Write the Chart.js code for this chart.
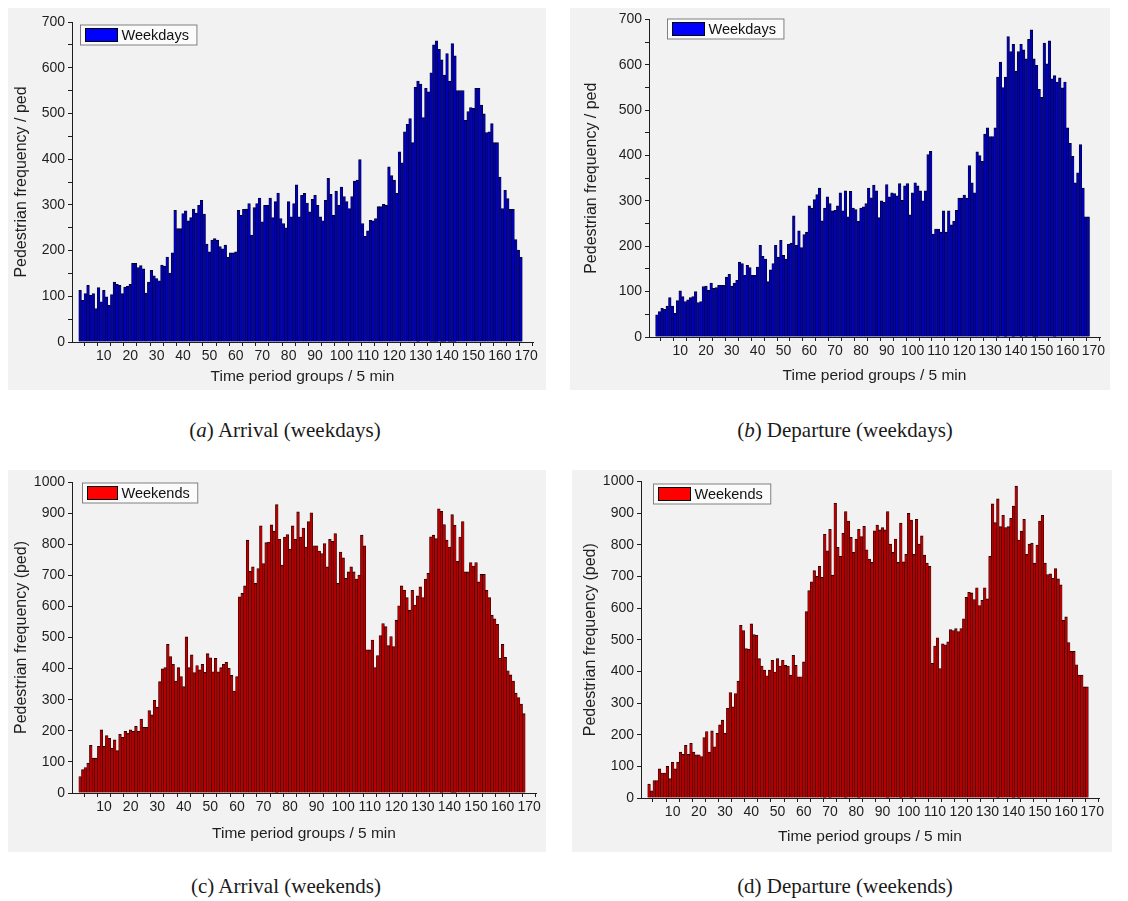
<!DOCTYPE html>
<html>
<head>
<meta charset="utf-8">
<title>Pedestrian frequency by time period</title>
<script src="https://cdn.jsdelivr.net/npm/chart.js@4.4.1/dist/chart.umd.min.js"></script>
<style>
  body {
    margin: 0;
    width: 1128px;
    height: 901px;
    position: relative;
    overflow: hidden;
    background: #ffffff;
  }
  .panel {
    position: absolute;
    background: #f2f2f2;
  }
  .caption {
    position: absolute;
    width: 420px;
    text-align: center;
    font-family: "Liberation Serif", "Times New Roman", serif;
    font-size: 21px;
    color: #1a1a1a;
  }
</style>
</head>
<body>

<div class="panel" style="left:8px; top:8px; width:538px; height:382px;"><canvas id="chart-arr-wd"></canvas></div>
<div class="panel" style="left:570px; top:8px; width:540px; height:382px;"><canvas id="chart-dep-wd"></canvas></div>
<div class="panel" style="left:8px; top:470px; width:538px; height:382px;"><canvas id="chart-arr-we"></canvas></div>
<div class="panel" style="left:572px; top:470px; width:540px; height:382px;"><canvas id="chart-dep-we"></canvas></div>

<div class="caption" style="left:75px; top:418px;">(<i>a</i>) Arrival (weekdays)</div>
<div class="caption" style="left:635px; top:418px;">(<i>b</i>) Departure (weekdays)</div>
<div class="caption" style="left:76px; top:874px;">(c) Arrival (weekends)</div>
<div class="caption" style="left:635px; top:874px;">(d) Departure (weekends)</div>

<script>
// ==========================================
// Data (168 five-minute groups)
// ==========================================

const periods = Array.from({ length: 168 }, (_, i) => i + 1);
const xTickValues = [5, 10, 15, 20, 25, 30, 35, 40, 45, 50, 55, 60, 65, 70, 75, 80, 85, 90,
  95, 100, 105, 110, 115, 120, 125, 130, 135, 140, 145, 150, 155, 160, 165, 170];

const arrivalWeekdays = [
  113, 91, 106, 124, 102, 106, 73, 119, 88, 113,
  99, 80, 104, 131, 126, 124, 106, 120, 122, 126,
  172, 172, 163, 167, 160, 107, 131, 157, 145, 139,
  134, 168, 166, 186, 151, 195, 288, 248, 248, 281,
  287, 265, 272, 291, 282, 299, 310, 280, 214, 197,
  223, 226, 223, 209, 204, 212, 185, 195, 195, 197,
  288, 277, 290, 291, 303, 234, 294, 303, 315, 263,
  299, 299, 315, 272, 307, 326, 270, 259, 250, 307,
  274, 303, 344, 274, 321, 325, 304, 285, 312, 321,
  299, 274, 265, 310, 358, 323, 277, 330, 299, 339,
  318, 307, 292, 318, 352, 354, 399, 259, 231, 243,
  266, 265, 270, 296, 296, 301, 299, 383, 364, 354,
  325, 416, 392, 460, 476, 489, 436, 557, 571, 564,
  491, 555, 547, 589, 650, 659, 640, 617, 584, 631,
  571, 653, 626, 550, 550, 550, 485, 504, 513, 511,
  555, 555, 518, 499, 458, 460, 478, 436, 436, 361,
  292, 332, 314, 290, 290, 224, 201, 185
];

const departureWeekdays = [
  49, 56, 63, 61, 68, 87, 68, 52, 80, 102,
  89, 78, 82, 87, 89, 100, 76, 78, 111, 112,
  103, 119, 107, 109, 114, 114, 114, 132, 138, 112,
  119, 125, 165, 162, 136, 158, 153, 136, 136, 154,
  202, 178, 172, 122, 148, 162, 202, 176, 213, 180,
  172, 204, 207, 267, 202, 234, 197, 226, 231, 289,
  284, 303, 314, 328, 256, 284, 309, 294, 278, 279,
  289, 318, 278, 322, 265, 321, 284, 281, 255, 284,
  287, 294, 328, 307, 335, 322, 263, 300, 297, 336,
  309, 318, 316, 311, 338, 301, 333, 338, 269, 318,
  340, 333, 322, 300, 322, 402, 409, 227, 238, 238,
  231, 278, 231, 278, 247, 255, 279, 306, 306, 313,
  306, 378, 340, 318, 408, 400, 387, 447, 461, 442,
  442, 461, 573, 606, 550, 573, 662, 629, 645, 586,
  629, 645, 633, 613, 656, 677, 613, 599, 546, 528,
  648, 602, 653, 569, 576, 562, 571, 549, 562, 461,
  427, 398, 340, 362, 424, 328, 265, 265
];

const arrivalWeekends = [
  53, 75, 82, 96, 153, 112, 112, 150, 203, 150,
  185, 176, 144, 171, 136, 189, 179, 198, 193, 203,
  198, 214, 198, 238, 211, 211, 265, 251, 298, 276,
  358, 399, 403, 478, 439, 414, 360, 403, 374, 342,
  502, 403, 444, 387, 410, 396, 414, 388, 448, 435,
  390, 433, 390, 403, 414, 420, 401, 378, 328, 374,
  631, 642, 666, 813, 713, 727, 674, 722, 859, 738,
  805, 807, 862, 842, 927, 816, 733, 823, 831, 784,
  859, 816, 904, 823, 852, 791, 873, 901, 795, 795,
  778, 770, 802, 727, 816, 809, 834, 674, 775, 756,
  690, 711, 727, 711, 688, 701, 829, 795, 460, 460,
  492, 403, 442, 506, 545, 535, 474, 503, 471, 556,
  602, 666, 652, 628, 588, 652, 604, 634, 663, 628,
  688, 706, 824, 829, 818, 914, 906, 863, 813, 791,
  895, 861, 745, 823, 873, 711, 711, 741, 730, 741,
  679, 703, 703, 652, 628, 572, 560, 542, 433, 478,
  436, 393, 380, 360, 321, 307, 286, 255
];

const departureWeekends = [
  44, 23, 55, 55, 92, 79, 79, 100, 61, 113,
  92, 113, 145, 138, 166, 138, 173, 145, 136, 136,
  131, 191, 210, 145, 212, 162, 204, 231, 246, 204,
  283, 333, 288, 330, 369, 545, 529, 472, 470, 550,
  516, 514, 440, 417, 404, 386, 404, 435, 398, 440,
  417, 435, 419, 417, 388, 451, 419, 383, 383, 430,
  589, 655, 683, 718, 700, 732, 697, 833, 781, 849,
  704, 931, 792, 763, 836, 905, 875, 823, 776, 818,
  849, 826, 858, 784, 755, 744, 844, 862, 847, 854,
  847, 905, 802, 776, 818, 744, 868, 746, 770, 899,
  878, 770, 880, 802, 828, 767, 742, 732, 425, 480,
  506, 409, 487, 484, 493, 532, 529, 535, 526, 535,
  566, 634, 650, 648, 627, 664, 608, 624, 664, 629,
  763, 929, 870, 945, 857, 893, 854, 857, 883, 922,
  985, 815, 843, 880, 770, 802, 805, 742, 799, 875,
  893, 742, 706, 708, 694, 725, 692, 673, 561, 572,
  491, 463, 463, 421, 388, 388, 351, 351
];

document.addEventListener('DOMContentLoaded', () => {
  if (typeof Chart === 'undefined') {
    console.error('Chart.js is not loaded.');
    return;
  }

  const FONT = '"Liberation Sans", Arial, sans-serif';
  const INK = '#1e1e1e';

  // Framed legend drawn inside the plot area (Origin style)
  const legendFrame = {
    id: 'legendFrame',
    afterDraw(chart, args, opts) {
      const { ctx, chartArea } = chart;
      const label = chart.data.datasets[0].label;
      const x = Math.round(chartArea.left + opts.dx) + 0.5;
      const y = Math.round(chartArea.top + opts.dy) + 0.5;

      ctx.save();
      ctx.font = '14.5px ' + FONT;
      const tw = ctx.measureText(label).width;
      const w = opts.boxW + 5 + tw + 12;

      ctx.fillStyle = '#fbfbfb';
      ctx.fillRect(x - 5, y - 3.5, w, 20);
      ctx.strokeStyle = '#808080';
      ctx.lineWidth = 1;
      ctx.strokeRect(x - 5, y - 3.5, w, 20);

      ctx.fillStyle = opts.swatch;
      ctx.fillRect(x, y, opts.boxW, 13);
      ctx.strokeStyle = '#000000';
      ctx.strokeRect(x, y, opts.boxW, 13);

      ctx.fillStyle = '#111111';
      ctx.textBaseline = 'middle';
      ctx.fillText(label, x + opts.boxW + 4, y + 7);
      ctx.restore();
    }
  };

  // ==========================================
  // Panel renderer
  // ==========================================

  function renderPanel(canvasId, cfg) {
    const ctx = document.getElementById(canvasId).getContext('2d');

    return new Chart(ctx, {
      type: 'bar',
      data: {
        datasets: [{
          label: cfg.label,
          data: periods.map((p, i) => ({ x: p, y: cfg.values[i] })),
          backgroundColor: cfg.fill,
          borderColor: cfg.edge,
          borderWidth: { left: 0.55, right: 0.55, top: 0.9, bottom: 0 },
          borderSkipped: false,
          barPercentage: 1,
          categoryPercentage: 1
        }]
      },
      plugins: [legendFrame],
      options: {
        responsive: true,
        maintainAspectRatio: false,
        animation: false,
        layout: { padding: { top: cfg.padTop, right: cfg.padRight, left: 0, bottom: 0 } },
        plugins: {
          legend: { display: false },
          tooltip: { enabled: false },
          legendFrame: { dx: cfg.legendDx, dy: cfg.legendDy, boxW: cfg.legendBoxW, swatch: cfg.swatch }
        },
        scales: {
          x: {
            type: 'linear',
            min: 0.5,
            max: 170,
            afterBuildTicks: axis => { axis.ticks = xTickValues.map(v => ({ value: v })); },
            afterFit: scale => { scale.height = cfg.xHeight; },
            ticks: {
              autoSkip: false,
              maxRotation: 0,
              padding: 2,
              color: INK,
              font: { family: FONT, size: 14 },
              callback: v => (v % 10 === 0 ? v : '')
            },
            grid: { drawOnChartArea: false, tickLength: 4, tickColor: INK },
            border: { color: INK, width: 1 },
            title: {
              display: true,
              text: 'Time period groups / 5 min',
              color: INK,
              font: { family: FONT, size: 15.5 },
              padding: { top: 0, bottom: cfg.xTitlePad }
            }
          },
          y: {
            min: 0,
            max: cfg.yMax,
            afterFit: scale => { scale.width = cfg.yWidth; },
            ticks: {
              stepSize: 50,
              padding: 3,
              color: INK,
              font: { family: FONT, size: 14 },
              callback: v => (v % 100 === 0 ? v : '')
            },
            grid: { drawOnChartArea: false, tickLength: 4, tickColor: INK },
            border: { color: INK, width: 1 },
            title: {
              display: true,
              text: cfg.yTitle,
              color: INK,
              font: { family: FONT, size: 16 },
              padding: { top: cfg.yTitlePad, bottom: 0 }
            }
          }
        }
      }
    });
  }

  // --- Weekdays (blue) ---
  renderPanel('chart-arr-wd', {
    label: 'Weekdays', values: arrivalWeekdays, yMax: 700,
    yTitle: 'Pedestrian frequency / ped',
    fill: '#0000b4', edge: '#00001c', swatch: '#0000ff',
    padTop: 14, padRight: 13, yWidth: 64, xHeight: 48,
    yTitlePad: 4, xTitlePad: 4,
    legendDx: 13, legendDy: 6, legendBoxW: 32
  });

  renderPanel('chart-dep-wd', {
    label: 'Weekdays', values: departureWeekdays, yMax: 700,
    yTitle: 'Pedestrian frequency / ped',
    fill: '#0000b4', edge: '#00001c', swatch: '#0000ff',
    padTop: 9, padRight: 10, yWidth: 79, xHeight: 53,
    yTitlePad: 12, xTitlePad: 5,
    legendDx: 23, legendDy: 3, legendBoxW: 32
  });

  // --- Weekends (red) ---
  renderPanel('chart-arr-we', {
    label: 'Weekends', values: arrivalWeekends, yMax: 1000,
    yTitle: 'Pedestrian frequency (ped)',
    fill: '#b40000', edge: '#1c0000', swatch: '#ff0000',
    padTop: 12, padRight: 10, yWidth: 64, xHeight: 59,
    yTitlePad: 4, xTitlePad: 9,
    legendDx: 15, legendDy: 4, legendBoxW: 30
  });

  renderPanel('chart-dep-we', {
    label: 'Weekends', values: departureWeekends, yMax: 1000,
    yTitle: 'Pedestrian frequency (ped)',
    fill: '#b40000', edge: '#1c0000', swatch: '#ff0000',
    padTop: 10, padRight: 13, yWidth: 69, xHeight: 54,
    yTitlePad: 9, xTitlePad: 6,
    legendDx: 17, legendDy: 6, legendBoxW: 32
  });
});
</script>
</body>
</html>
